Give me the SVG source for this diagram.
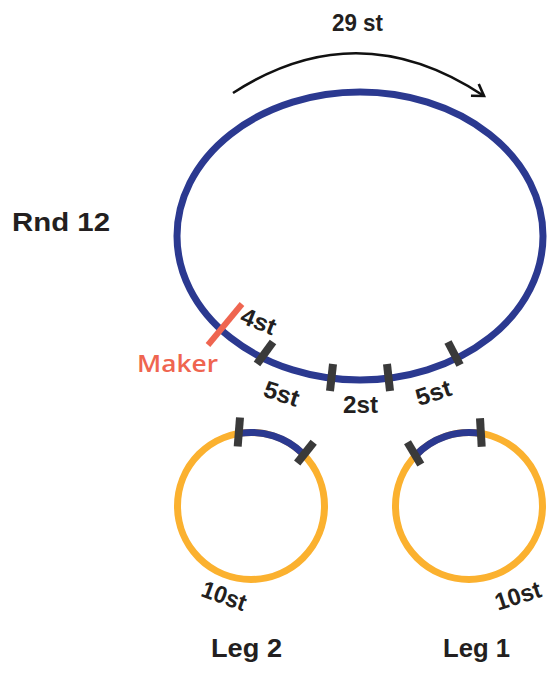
<svg xmlns="http://www.w3.org/2000/svg" width="549" height="675" viewBox="0 0 549 675">
<style>
.blue{fill:none;stroke:#2B3990;stroke-width:7}
.orange{fill:none;stroke:#FBB12F;stroke-width:7}
.tick{stroke:#3A3A3A;stroke-width:8;stroke-linecap:butt}
.lbl{font-family:"Liberation Sans",Arial,sans-serif;font-weight:bold;fill:#231F20}
.sm{font-size:24px;text-anchor:middle}
.big{font-size:25px}
</style>
<defs>
<marker id="arrow" markerUnits="userSpaceOnUse" markerWidth="20" markerHeight="20" refX="0" refY="0" viewBox="-14 -10 16 20" orient="auto">
<path d="M-11,-7 L0,0 L-11,7" fill="none" stroke="#111" stroke-width="2.6" stroke-linejoin="miter"/>
</marker>
</defs>
<rect width="549" height="675" fill="#fff"/>
<g id="connectors">
<path d="M233,93 Q358,12 484,96" fill="none" stroke="#111" stroke-width="2.6" marker-end="url(#arrow)"/>
</g>
<g id="round12">
<ellipse class="blue" cx="360" cy="236" rx="183" ry="144"/>
<line class="tick" x1="273" y1="342" x2="257" y2="364"/>
<line class="tick" x1="333" y1="364" x2="330" y2="391"/>
<line class="tick" x1="387" y1="364" x2="390" y2="391"/>
<line class="tick" x1="448" y1="342" x2="460" y2="365"/>
<line x1="242" y1="304" x2="208" y2="345" stroke="#EF6550" stroke-width="6"/>
<text class="lbl big" x="12" y="231" textLength="98" lengthAdjust="spacingAndGlyphs">Rnd 12</text>
<text class="lbl" x="332" y="31" font-size="24" textLength="51" lengthAdjust="spacingAndGlyphs">29 st</text>
<text x="137" y="372" font-family="'Open Sans','Liberation Sans',Arial,sans-serif" font-weight="600" font-size="24" fill="#EF6550" textLength="81" lengthAdjust="spacingAndGlyphs">Maker</text>
<text class="lbl sm" transform="translate(258.5,321.5) rotate(22)" x="0" y="8" textLength="36" lengthAdjust="spacingAndGlyphs">4st</text>
<text class="lbl sm" transform="translate(281.5,394) rotate(18)" x="0" y="8" textLength="36" lengthAdjust="spacingAndGlyphs">5st</text>
<text class="lbl sm" transform="translate(360.5,404)" x="0" y="9" textLength="35" lengthAdjust="spacingAndGlyphs">2st</text>
<text class="lbl sm" transform="translate(433.5,393) rotate(-18)" x="0" y="8" textLength="36" lengthAdjust="spacingAndGlyphs">5st</text>
</g>
<g id="leg2">
<circle class="orange" cx="251" cy="506" r="73.5"/>
<path class="blue" d="M240,433.3 A73.5,73.5 0 0 1 302.1,453.1"/>
<line class="tick" x1="240" y1="417.5" x2="237.7" y2="446.5"/>
<line class="tick" x1="313.7" y1="442.2" x2="297.2" y2="463"/>
<text class="lbl sm" transform="translate(224,596) rotate(20)" x="0" y="8" textLength="46" lengthAdjust="spacingAndGlyphs">10st</text>
<text class="lbl big" x="211" y="657" font-size="26" textLength="71" lengthAdjust="spacingAndGlyphs">Leg 2</text>
</g>
<g id="leg1">
<circle class="orange" cx="469" cy="506" r="73.5"/>
<path class="blue" d="M415.6,455.5 A73.5,73.5 0 0 1 480.9,433.5"/>
<line class="tick" x1="407.5" y1="442.2" x2="420.8" y2="464.5"/>
<line class="tick" x1="480" y1="418.3" x2="481.7" y2="446.7"/>
<text class="lbl sm" transform="translate(518,596) rotate(-18)" x="0" y="8" textLength="47" lengthAdjust="spacingAndGlyphs">10st</text>
<text class="lbl big" x="443" y="657" font-size="26" textLength="67" lengthAdjust="spacingAndGlyphs">Leg 1</text>
</g>
</svg>
